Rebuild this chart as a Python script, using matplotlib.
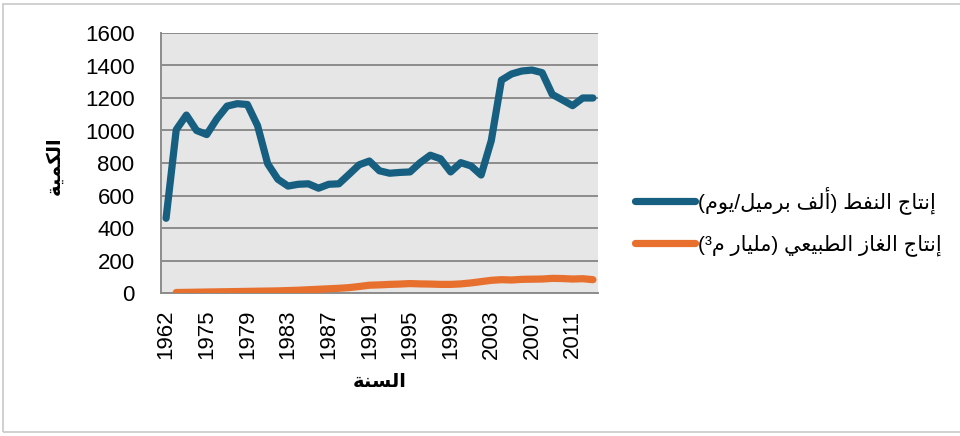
import numpy as np
import matplotlib
matplotlib.use('Agg')
import matplotlib.pyplot as plt
from matplotlib.patches import Rectangle

# Arabic glyphs come from DejaVu Sans, digits from Liberation Sans
plt.rcParams['font.family'] = ['Liberation Sans', 'DejaVu Sans']

years = [1962, 1970, 1973, 1974, 1975, 1976, 1977, 1978, 1979, 1980,
         1981, 1982, 1983, 1984, 1985, 1986, 1987, 1988, 1989, 1990,
         1991, 1992, 1993, 1994, 1995, 1996, 1997, 1998, 1999, 2000,
         2001, 2002, 2003, 2004, 2005, 2006, 2007, 2008, 2009, 2010,
         2011, 2012, 2013]

oil = [460, 1005, 1095, 1000, 975, 1072, 1150, 1165, 1160, 1030,
       795, 700, 658, 669, 672, 645, 669, 672, 730, 789,
       812, 752, 737, 742, 745, 802, 848, 826, 745, 802,
       782, 726, 938, 1310, 1348, 1366, 1372, 1356, 1222, 1188,
       1153, 1200, 1200]

gas = [np.nan, 3, 4, 5, 6, 7, 8, 9, 10, 11,
       12, 13, 15, 17, 20, 23, 26, 29, 33, 40,
       48, 50, 53, 55, 58, 56, 55, 53, 53, 56,
       62, 70, 78, 82, 80, 84, 85, 86, 90, 89,
       86, 88, 82]

oil_label = 'إنتاج النفط (ألف برميل/يوم)'
gas_label = 'إنتاج الغاز الطبيعي (مليار م³)'
x_title = 'السنة'
y_title = 'الكمية'

# matplotlib does not shape Arabic: pick the contextual forms by hand
# (base code of isolated form, number of forms)
FORMS = {
    'ا': (0xFE8D, 2), 'أ': (0xFE83, 2), 'إ': (0xFE87, 2), 'ب': (0xFE8F, 4),
    'ة': (0xFE93, 2), 'ت': (0xFE95, 4), 'ج': (0xFE9D, 4), 'ر': (0xFEAD, 2),
    'ز': (0xFEAF, 2), 'س': (0xFEB1, 4), 'ط': (0xFEC1, 4), 'ع': (0xFEC9, 4),
    'غ': (0xFECD, 4), 'ف': (0xFED1, 4), 'ك': (0xFED9, 4), 'ل': (0xFEDD, 4),
    'م': (0xFEE1, 4), 'ن': (0xFEE5, 4), 'و': (0xFEED, 2), 'ي': (0xFEF1, 4),
}


def shape(text):
    out = []
    for i, ch in enumerate(text):
        if ch not in FORMS:
            out.append(ch)
            continue
        base, n = FORMS[ch]
        prev = text[i - 1] if i > 0 else ''
        nxt = text[i + 1] if i + 1 < len(text) else ''
        join_prev = prev in FORMS and FORMS[prev][1] == 4
        join_next = n == 4 and nxt in FORMS
        if join_prev and join_next:
            code = base + 3
        elif join_prev:
            code = base + 1
        elif join_next:
            code = base + 2
        else:
            code = base
        out.append(chr(code))
    vis = ''.join(reversed(out))
    return vis.translate(str.maketrans('()', ')('))


fig = plt.figure(figsize=(9.6, 4.36), dpi=100)
fig.patches.append(Rectangle((3 / 960, 4 / 436), 1.0, 428 / 436, transform=fig.transFigure,
                             fill=False, edgecolor='#c8c8c8', linewidth=1.2))

ax = fig.add_axes([161 / 960, 1 - 293 / 436, 437 / 960, 260 / 436])
ax.set_facecolor('#e6e6e6')

x = np.arange(len(years))
ax.plot(x, oil, color='#165f80', linewidth=5.2, solid_capstyle='round',
        solid_joinstyle='round', label=shape(oil_label), zorder=3)
ax.plot(x, gas, color='#e8702e', linewidth=5.2, solid_capstyle='round',
        solid_joinstyle='round', label=shape(gas_label), zorder=3)

ax.set_xlim(-0.5, len(years) - 0.5)
ax.set_ylim(0, 1600)
ax.set_yticks(np.arange(0, 1601, 200))
ax.set_xticks(x[::4])
ax.set_xticklabels([str(y) for y in years[::4]], rotation=90)
ax.tick_params(axis='y', length=0, pad=19, labelsize=16)
ax.tick_params(axis='x', length=0, pad=12, labelsize=16)
ax.grid(axis='y', color='#8c8c8c', linewidth=1.4)
ax.set_axisbelow(True)

for side in ['top', 'right']:
    ax.spines[side].set_visible(False)
for side in ['left', 'bottom']:
    ax.spines[side].set_color('#8c8c8c')
    ax.spines[side].set_linewidth(1.4)

ax.set_xlabel(shape(x_title), fontsize=14, fontweight='bold')
ax.set_ylabel(shape(y_title), fontsize=14, fontweight='bold')
ax.xaxis.set_label_coords(0.5, -0.31)
ax.yaxis.set_label_coords(-0.224, 0.49)

fig.legend(loc='center left', bbox_to_anchor=(635 / 960, 1 - 221 / 436), frameon=False,
           fontsize=15, handlelength=2.9, handletextpad=0.1, labelspacing=0.95,
           borderpad=0, borderaxespad=0)

plt.savefig('out.png', dpi=100)
